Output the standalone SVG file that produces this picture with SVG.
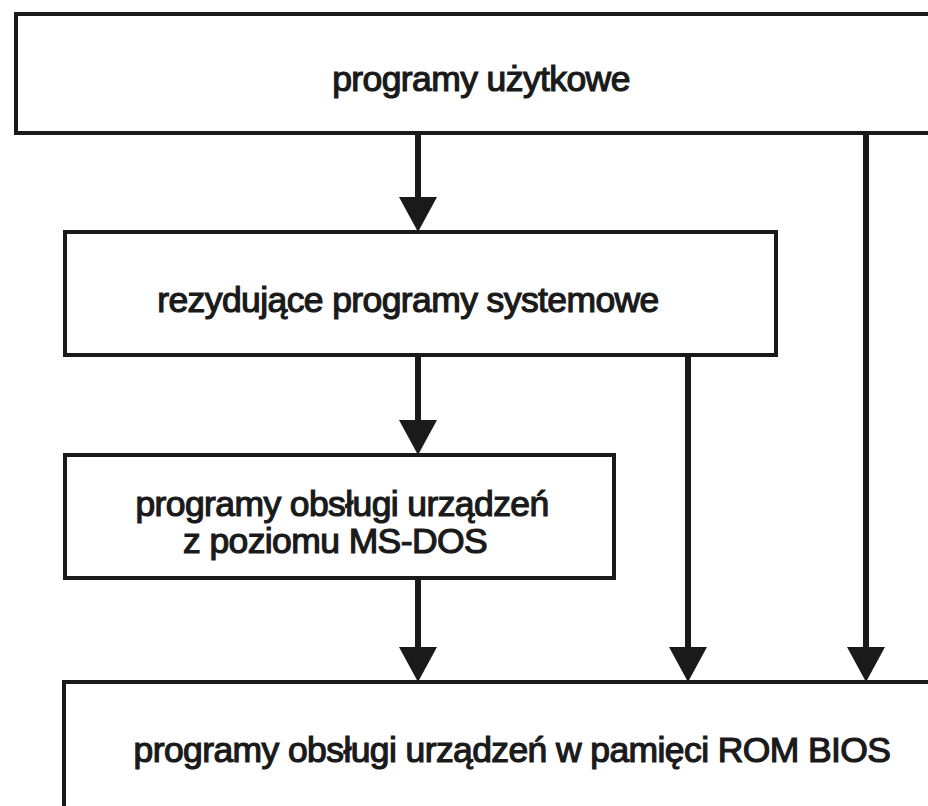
<svg xmlns="http://www.w3.org/2000/svg" width="928" height="806" viewBox="0 0 928 806">
<defs>
<style>
.box{fill:#ffffff;stroke:#1a1a1a;stroke-width:4}
.lbl{font-family:"Liberation Sans",Arial,sans-serif;font-size:35.5px;fill:#1a1a1a;stroke:#1a1a1a;stroke-width:1.2;text-anchor:middle;letter-spacing:-0.6px}
.shaft{stroke:#1a1a1a;stroke-width:6;fill:none}
.head{fill:#1a1a1a}
</style>
</defs>
<rect width="928" height="806" fill="#ffffff"/>
<g id="n1">
<rect class="box" x="16" y="14" width="930" height="119"/>
<text class="lbl" x="481" y="91">programy użytkowe</text>
</g>
<g id="n2">
<rect class="box" x="65" y="232" width="711" height="123"/>
<text class="lbl" x="408" y="312">rezydujące programy systemowe</text>
</g>
<g id="n3">
<rect class="box" x="65" y="455" width="549" height="123"/>
<text class="lbl" x="342" y="516">programy obsługi urządzeń</text>
<text class="lbl" x="335" y="553">z poziomu MS-DOS</text>
</g>
<g id="n4">
<rect class="box" x="64" y="682" width="880" height="140"/>
<text class="lbl" x="512" y="762">programy obsługi urządzeń w pamięci ROM BIOS</text>
</g>
<g id="connectors">
<line class="shaft" x1="418" y1="133" x2="418" y2="200"/>
<polygon class="head" points="399,197 437,197 418,232"/>
<line class="shaft" x1="418" y1="355" x2="418" y2="423"/>
<polygon class="head" points="399,420 437,420 418,455"/>
<line class="shaft" x1="418" y1="578" x2="418" y2="650"/>
<polygon class="head" points="399,647 437,647 418,682"/>
<line class="shaft" x1="688" y1="355" x2="688" y2="650"/>
<polygon class="head" points="669,647 707,647 688,682"/>
<line class="shaft" x1="866" y1="133" x2="866" y2="650"/>
<polygon class="head" points="847,647 885,647 866,682"/>
</g>
</svg>
